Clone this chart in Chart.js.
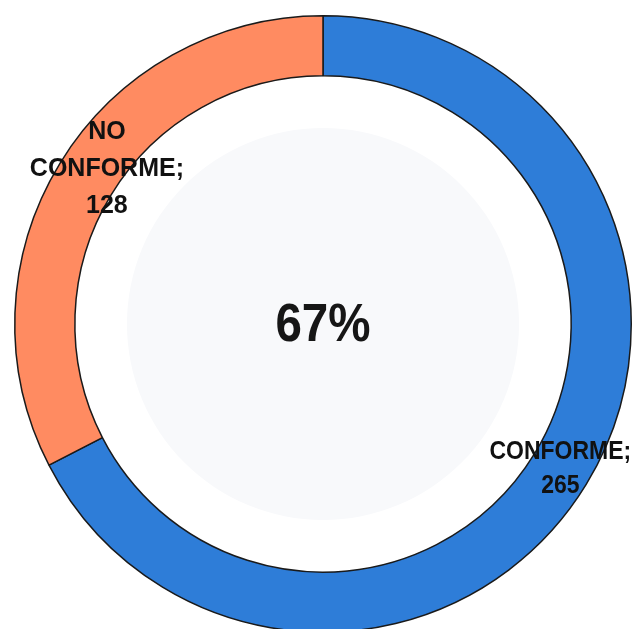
<!DOCTYPE html>
<html><head><meta charset="utf-8">
<script src="https://cdn.jsdelivr.net/npm/chart.js@4/dist/chart.umd.min.js"></script>
<style>
html,body{margin:0;padding:0;background:#fff;overflow:hidden;}
#wrap{position:relative;width:634px;height:640px;}
</style></head>
<body>
<div id="wrap"><canvas id="c"></canvas></div>
<script>
const categories = ["CONFORME", "NO CONFORME"];
const values = [265, 128];
const colors = ["#2E7DD8", "#FF8B61"];
const centerText = "67%";

const labelPlugin = {
  id: 'labels',
  beforeDatasetsDraw(chart) {
    const meta = chart.getDatasetMeta(0);
    const a = meta.data[0];
    const ctx = chart.ctx;
    ctx.save();
    ctx.beginPath();
    ctx.arc(a.x, a.y, a.innerRadius * 0.79, 0, Math.PI * 2);
    ctx.fillStyle = '#f8f9fb';
    ctx.fill();
    ctx.restore();
  },
  afterDatasetsDraw(chart) {
    const ctx = chart.ctx;
    const meta = chart.getDatasetMeta(0);
    const angAdj = [0, 4.3];
    const radii = [278, 266];
    const lineH = [34, 37];
    ctx.save();
    ctx.fillStyle = '#111';
    ctx.textAlign = 'center';
    ctx.textBaseline = 'middle';
    meta.data.forEach((arc, i) => {
      const mid = (arc.startAngle + arc.endAngle) / 2 + (angAdj[i] * Math.PI / 180);
      const x = arc.x + Math.cos(mid) * radii[i];
      const y = arc.y + Math.sin(mid) * radii[i];
      const words = categories[i].split(' ');
      const lines = words.length > 1 ? [words[0], words.slice(1).join(' ') + ';', String(values[i])] : [categories[i] + ';', String(values[i])];
      const lh = lineH[i];
      const y0 = y - (lines.length - 1) * lh / 2;
      lines.forEach((t, k) => {
        ctx.save();
        ctx.translate(x, y0 + k * lh);
        ctx.scale(i === 0 ? 0.92 : 1.0, 1);
        ctx.font = 'bold 25px "Liberation Sans", Arial, sans-serif';
        ctx.fillText(t, 0, 0);
        ctx.restore();
      });
    });
    const a = meta.data[0];
    ctx.save();
    ctx.translate(a.x, a.y + 2);
    ctx.scale(0.88, 1);
    ctx.font = 'bold 54px "Liberation Sans", Arial, sans-serif';
    ctx.fillStyle = '#161616';
    ctx.fillText(centerText, 0, 0);
    ctx.restore();
    ctx.restore();
  }
};

new Chart(document.getElementById('c'), {
  type: 'doughnut',
  data: {
    labels: categories,
    datasets: [{
      data: values,
      backgroundColor: colors,
      borderColor: '#1a1a1a',
      borderWidth: 1.5
    }]
  },
  options: {
    responsive: true,
    maintainAspectRatio: false,
    animation: false,
    cutout: '80.5%',
    layout: { padding: { left: 14, right: 2, top: 15, bottom: 7 } },
    plugins: { legend: { display: false }, tooltip: { enabled: false } }
  },
  plugins: [labelPlugin]
});
</script>
</body></html>
